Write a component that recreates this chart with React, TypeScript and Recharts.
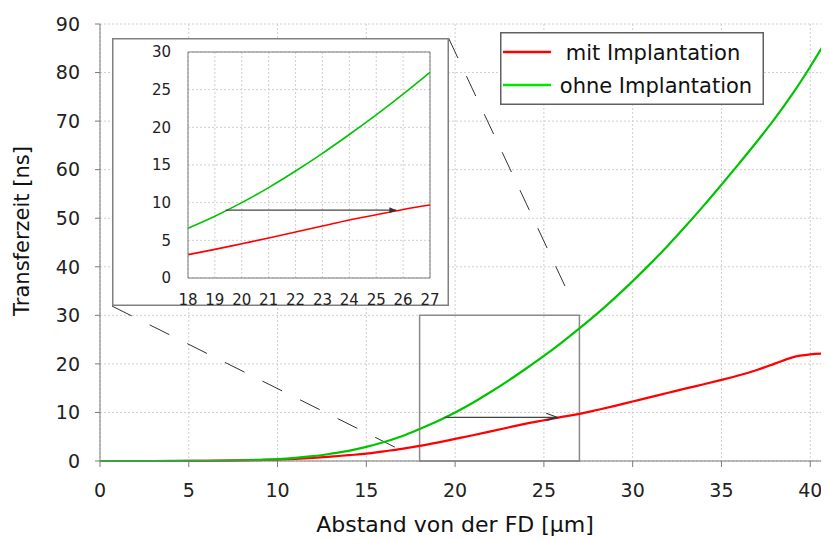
import { CartesianGrid, Line, LineChart, ReferenceArea, ReferenceLine, XAxis, YAxis } from "recharts";

const FONT = "DejaVu Sans, Liberation Sans, sans-serif";

// Abstand von der FD [µm]
const distance = [
  0, 1, 2, 3, 4, 5, 6, 7, 8, 9, 10, 11, 12, 13, 14, 15, 16, 17, 18, 19, 20, 21, 22, 23, 24, 25, 26, 27, 28, 29,
  30, 31, 32, 33, 34, 35, 36, 37, 38, 39, 40, 41,
];
// Transferzeit [ns]
const mitImplantation = [
  0, 0, 0, 0, 0, 0.02, 0.04, 0.08, 0.13, 0.2, 0.3, 0.45, 0.65, 0.9, 1.2, 1.5, 2.0, 2.5, 3.1, 3.8, 4.55, 5.3, 6.1,
  6.9, 7.7, 8.4, 9.1, 9.7, 10.5, 11.35, 12.25, 13.15, 14.05, 14.95, 15.8, 16.7, 17.65, 18.75, 20.05, 21.35, 21.95,
  22.15,
];
const ohneImplantation = [
  0, 0, 0, 0, 0.01, 0.02, 0.05, 0.09, 0.15, 0.25, 0.4, 0.65, 1.0, 1.5, 2.1, 2.9, 3.9, 5.1, 6.6, 8.2, 10.0, 12.0,
  14.2, 16.55, 19.05, 21.65, 24.4, 27.3, 30.35, 33.6, 37.05, 40.65, 44.45, 48.45, 52.6, 56.9, 61.3, 65.8, 70.5, 75.6,
  81.2, 87.2,
];

const mainXTicks = [0, 5, 10, 15, 20, 25, 30, 35, 40];
const mainYTicks = [0, 10, 20, 30, 40, 50, 60, 70, 80, 90];
const insetXTicks = [18, 19, 20, 21, 22, 23, 24, 25, 26, 27];
const insetYTicks = [0, 5, 10, 15, 20, 25, 30];

// zoomed window and the horizontal arrow at 9 ns
const zoomX = [18, 27];
const zoomY = [0, 30];
const arrowX = [19.4, 25.75];
const arrowLevel = 9;

// inset frame corners in main-chart units, for the dashed connectors
const connectorTop = [
  { x: 19.63, y: 87.1 },
  { x: 26.55, y: 33.2 },
];
const connectorBottom = [
  { x: 0.68, y: 31.9 },
  { x: 17.16, y: 1.85 },
];

const rows = distance.map((x, i) => ({ x, mit: mitImplantation[i], ohne: ohneImplantation[i] }));
const insetRows = rows.filter((r) => r.x >= zoomX[0] && r.x <= zoomX[1]);
const arrowRows = arrowX.map((x) => ({ x, y: arrowLevel }));

const RED = "#ff0000";
const GREEN = "#00c400";
const AXIS = "#7a7a7a";
const GRID = "#cfcfcf";

function arrowHead(filled: boolean) {
  return (props: any) => {
    const { cx, cy, index } = props;
    if (index !== arrowRows.length - 1) return <g key={`a${index}`} />;
    if (filled) {
      return <path key="head" d={`M${cx},${cy} L${cx - 7},${cy - 3} L${cx - 7},${cy + 3} Z`} fill="#333" />;
    }
    return (
      <path
        key="head"
        d={`M${cx - 11},${cy - 4} L${cx},${cy} L${cx - 11},${cy + 3}`}
        stroke="#333"
        strokeWidth={1.2}
        fill="none"
      />
    );
  };
}

const yTitle = () => (
  <text
    x={22}
    y={231}
    transform="rotate(-90 22 231)"
    textAnchor="middle"
    dominantBaseline="central"
    fontSize={21}
    fontFamily={FONT}
    fill="#111"
  >
    Transferzeit [ns]
  </text>
);

const xTitle = () => (
  <text x={455} y={532} textAnchor="middle" fontSize={22} fontFamily={FONT} fill="#111">
    Abstand von der FD [µm]
  </text>
);

function Inset() {
  return (
    <div
      style={{
        position: "absolute",
        left: 112,
        top: 38,
        width: 337,
        height: 268,
        background: "#fff",
        boxShadow: "inset 0 0 0 1.5px #808080",
        overflow: "visible",
      }}
    >
      <LineChart width={337} height={282} data={insetRows} margin={{ top: 14, right: 19, bottom: 14, left: 0 }}>
        <CartesianGrid stroke={GRID} strokeDasharray="2 2" />
        <XAxis
          dataKey="x"
          type="number"
          domain={[18, 27]}
          ticks={insetXTicks}
          height={28}
          stroke={AXIS}
          tickLine={false}
          tickMargin={10}
          tick={{ fill: "#222", fontSize: 15, fontFamily: FONT }}
        />
        <YAxis
          type="number"
          domain={[0, 30]}
          ticks={insetYTicks}
          width={76}
          stroke={AXIS}
          tickLine={false}
          tickMargin={11}
          tick={{ fill: "#222", fontSize: 15, fontFamily: FONT }}
        />
        <ReferenceLine y={30} stroke={AXIS} />
        <ReferenceLine x={27} stroke={AXIS} />
        <Line dataKey="mit" type="monotone" stroke={RED} strokeWidth={1.6} dot={false} isAnimationActive={false} />
        <Line dataKey="ohne" type="monotone" stroke={GREEN} strokeWidth={1.6} dot={false} isAnimationActive={false} />
        <Line
          data={arrowRows}
          dataKey="y"
          stroke="#444"
          strokeWidth={1.2}
          dot={arrowHead(true)}
          activeDot={false}
          isAnimationActive={false}
        />
      </LineChart>
    </div>
  );
}

function LegendBox() {
  return (
    <div
      style={{
        position: "absolute",
        left: 500,
        top: 32,
        width: 264,
        height: 73,
        background: "#fff",
        boxShadow: "inset 0 0 0 1.5px #606060",
      }}
    >
      <svg width={264} height={73}>
        <line x1={3} x2={51} y1={20} y2={20} stroke={RED} strokeWidth={2.5} />
        <text x={153} y={28} textAnchor="middle" fontSize={21} fontFamily={FONT} fill="#111">
          mit Implantation
        </text>
        <line x1={3} x2={51} y1={53} y2={53} stroke="#00e800" strokeWidth={2.5} />
        <text x={156} y={61} textAnchor="middle" fontSize={21} fontFamily={FONT} fill="#111">
          ohne Implantation
        </text>
      </svg>
    </div>
  );
}

export default function App() {
  return (
    <div style={{ position: "relative", width: 829, height: 540, marginLeft: -8, marginTop: -8, background: "#fff" }}>
      <LineChart width={829} height={540} data={rows} margin={{ top: 24, right: 1, bottom: 0, left: 0 }}>
        <CartesianGrid stroke={GRID} strokeDasharray="2 2" />
        <XAxis
          xAxisId="top"
          orientation="top"
          dataKey="x"
          type="number"
          domain={[0, 41]}
          ticks={mainXTicks}
          height={0}
          stroke={AXIS}
          tick={false}
          tickSize={6}
        />
        <XAxis
          dataKey="x"
          type="number"
          domain={[0, 41]}
          ticks={mainXTicks}
          allowDataOverflow
          height={79}
          stroke={AXIS}
          tickSize={6}
          tickMargin={17}
          tick={{ fill: "#222", fontSize: 19, fontFamily: FONT }}
          label={xTitle}
        />
        <YAxis
          type="number"
          domain={[0, 90]}
          ticks={mainYTicks}
          width={100}
          stroke={AXIS}
          tickSize={5}
          tickMargin={15}
          tick={{ fill: "#222", fontSize: 19, fontFamily: FONT }}
          label={yTitle}
        />
        <ReferenceLine segment={connectorBottom} stroke="#333" strokeDasharray="22 20" ifOverflow="visible" />
        <ReferenceLine segment={connectorTop} stroke="#333" strokeDasharray="22 20" ifOverflow="visible" />
        <ReferenceArea
          x1={zoomX[0]}
          x2={zoomX[1]}
          y1={zoomY[0]}
          y2={zoomY[1]}
          fill="none"
          stroke="#8a8a8a"
          strokeWidth={1.5}
        />
        <Line dataKey="mit" type="monotone" stroke={RED} strokeWidth={2.2} dot={false} isAnimationActive={false} />
        <Line dataKey="ohne" type="monotone" stroke={GREEN} strokeWidth={2.2} dot={false} isAnimationActive={false} />
        <Line
          data={arrowRows}
          dataKey="y"
          stroke="#444"
          strokeWidth={1.2}
          dot={arrowHead(false)}
          activeDot={false}
          isAnimationActive={false}
        />
      </LineChart>
      <Inset />
      <LegendBox />
    </div>
  );
}
